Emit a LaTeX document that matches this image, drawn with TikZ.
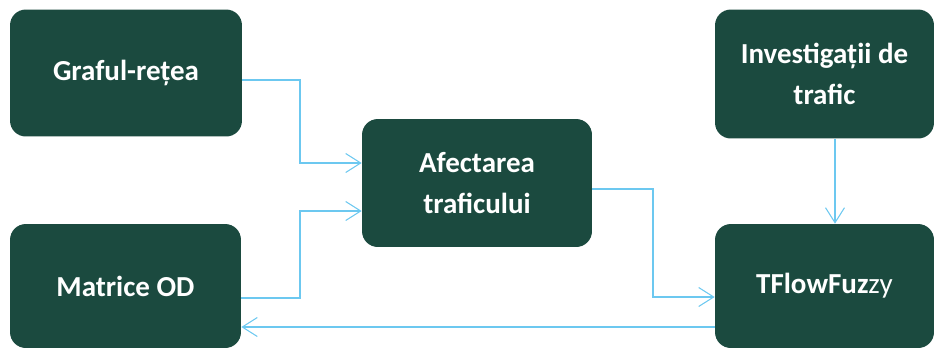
\documentclass[tikz,border=0pt]{standalone}
\usepackage{fontspec}
\setmainfont{Carlito}
\usetikzlibrary{arrows.meta}
\definecolor{boxgreen}{HTML}{1B4A3F}
\definecolor{linkblue}{HTML}{6CC8F0}

\begin{document}
\begin{tikzpicture}[x=0.02cm, y=-0.02cm,
    box/.style={rectangle, rounded corners=9pt, fill=boxgreen, text=white,
        font=\fontsize{16.5}{23}\selectfont\bfseries, align=center, inner sep=2pt},
    link/.style={draw=linkblue, line width=0.6pt,
        -{Straight Barb[length=3mm, width=3.8mm]}}]
    \useasboundingbox (0,0) rectangle (936,349);
    % boxes
    \node[box, minimum width=4.64cm, minimum height=2.54cm] (graf) at (126,73) {Graful-rețea};
    \node[box, minimum width=4.62cm, minimum height=2.48cm] (matrice) at (125.5,286) {Matrice OD};
    \node[box, minimum width=4.6cm, minimum height=2.56cm] (afect) at (477,183) {Afectarea\\traficului};
    \node[box, minimum width=4.38cm, minimum height=2.58cm] (invest) at (824.5,74) {Investigații de\\trafic};
    \node[box, minimum width=4.38cm, minimum height=2.48cm] (tflow) at (824.5,286) {TFlowFuz\mdseries zy};
    % connectors
    \draw[link] (graf.east |- 0,80) -- (300,80) -- (300,163) -- (afect.west |- 0,163);
    \draw[link] (matrice.east |- 0,298) -- (300,298) -- (300,211) -- (afect.west |- 0,211);
    \draw[link] (afect.east |- 0,189) -- (653,189) -- (653,297) -- (tflow.west |- 0,297);
    \draw[link] (invest.south -| 835,0) -- (tflow.north -| 835,0);
    \draw[link] (tflow.west |- 0,327) -- (matrice.east |- 0,327);
\end{tikzpicture}
\end{document}
